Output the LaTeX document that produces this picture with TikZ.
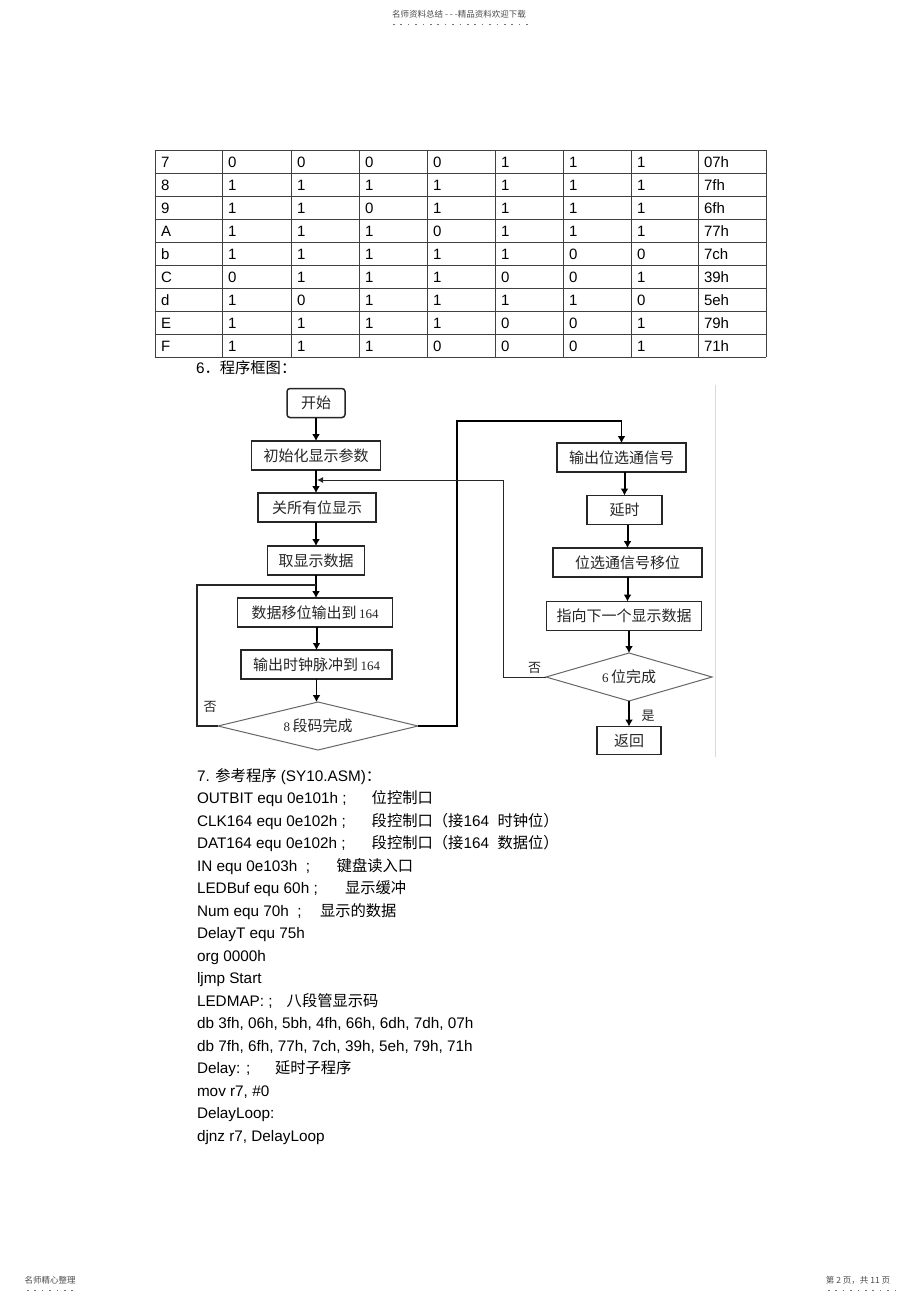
\documentclass[tikz,border=0pt]{standalone}
\usepackage{fontspec}
\setmainfont{Liberation Sans}
\newfontfamily\cjk{Noto Sans CJK SC}
\newfontfamily\numfont{Liberation Serif}
\usetikzlibrary{arrows.meta,shapes.geometric}
\newcommand\zh[1]{{\cjk #1}}
\newcommand\fnum[1]{{\numfont\fontsize{13}{15}\selectfont #1}}
\begin{document}
\begin{tikzpicture}[x=1pt,y=-1pt,
  every node/.style={inner sep=0pt, outer sep=0pt},
  txt/.style={anchor=base west, font=\fontsize{15.3}{18}\selectfont, text=black},
  cell/.style={anchor=base west, font=\fontsize{15}{18}\selectfont, text=black},
  tbl/.style={draw=black!75, line width=0.9pt},
  fbox/.style={draw=black!85, line width=1.5pt, minimum height=29pt, font=\cjk\fontsize{15}{17}\selectfont, text=black!85},
  dia/.style={diamond, draw=black!60, line width=1pt, font=\cjk\fontsize{15}{17}\selectfont, text=black!85},
  flow/.style={draw=black, line width=2pt, -{Latex[length=7pt,width=8pt]}},
  loopl/.style={draw=black!85, line width=1.3pt},
  lab/.style={font=\cjk\fontsize{13}{15}\selectfont, text=black!85},
  hdr/.style={font=\cjk\fontsize{8.5}{10}\selectfont, text=black!70},
  dots/.style={draw=black!55, line width=0.8pt, dash pattern=on 1.5pt off 5.9pt},
]
\useasboundingbox (0,0) rectangle (920,1303);
\fill[white] (0,0) rectangle (920,1303);

% header and footer
\node[hdr] (hd) at (459,14) {名师资料总结 - - -精品资料欢迎下载};
\coordinate (hdl) at (393,24); \coordinate (hdr) at (530,24);
\draw[dots] (hdl) -- (hdr);
\node[hdr] (fl) at (50,1280) {名师精心整理};
\coordinate (fll) at (27,1290); \coordinate (flr) at (78,1290);
\draw[dots] (fll) -- (flr);
\node[hdr] (fr) at (858,1280) {第 2 页，共 11 页};
\coordinate (frl) at (828,1290); \coordinate (frr) at (895,1290);
\draw[dots] (frl) -- (frr);

% table
\foreach \x in {155,222,291,359,427,495,563,631,698,766}
  \draw[tbl] (\x,150) -- (\x,357);
\foreach \i in {0,...,9}
  \draw[tbl] (155,150+23*\i) -- (766,150+23*\i);
\foreach \row [count=\i from 0] in {{7,0,0,0,0,1,1,1,07h},{8,1,1,1,1,1,1,1,7fh},{9,1,1,0,1,1,1,1,6fh},{A,1,1,1,0,1,1,1,77h},{b,1,1,1,1,1,0,0,7ch},{C,0,1,1,1,0,0,1,39h},{d,1,0,1,1,1,1,0,5eh},{E,1,1,1,1,0,0,1,79h},{F,1,1,1,0,0,0,1,71h}}{
  \foreach \c [count=\j from 0] in \row {
    \pgfmathsetmacro\cx{{155,222,291,359,427,495,563,631,698}[\j]+6}
    \node[cell] (t\i-\j) at (\cx,167+23*\i) {\c};
  }
}

% section 6 title
\node[txt] (s6) at (196,373.5) {6\zh{．程序框图：}};

% flowchart frame edge
\coordinate (fe1) at (715,385); \coordinate (fe2) at (715,757);
\draw[black!15, line width=1pt] (fe1) -- (fe2);

% left column
\node[fbox, rounded corners=3pt, minimum width=58pt] (start) at (316,403) {开始};
\node[fbox, minimum width=129pt] (init) at (316,455.5) {初始化显示参数};
\node[fbox, minimum width=118pt] (close) at (317,507.5) {关所有位显示};
\node[fbox, minimum width=97pt] (fetch) at (316,560.5) {取显示数据};
\node[fbox, minimum width=155pt] (shift) at (315,612.5) {数据移位输出到\,\fnum{164}};
\node[fbox, minimum width=151pt] (clk) at (316.5,664.5) {输出时钟脉冲到\,\fnum{164}};
\node[dia, shape aspect=4.2, minimum width=200pt, minimum height=48pt] (d8) at (318,726) {\fnum{8}\,段码完成};

% right column
\node[fbox, minimum width=129pt] (sel) at (621.5,457.5) {输出位选通信号};
\node[fbox, minimum width=75pt] (delay) at (624.5,510) {延时};
\node[fbox, minimum width=149pt] (selshift) at (627.5,562.5) {位选通信号移位};
\node[fbox, minimum width=155pt, line width=1.8pt] (next) at (624,616) {指向下一个显示数据};
\node[dia, shape aspect=3.5, minimum width=166pt, minimum height=48pt] (d6) at (629,677) {\fnum{6}\,位完成};
\node[fbox, minimum width=64pt, minimum height=28pt] (ret) at (629,740.5) {返回};

% left connectors
\draw[flow] (start.south) -- (start.south |- init.north);
\draw[flow] (init.south) -- (init.south |- close.north);
\draw[flow] (close.south -| fetch.north) -- (fetch.north);
\draw[flow] (fetch.south) -- (fetch.south |- shift.north);
\draw[flow] (shift.south -| clk.north) -- (clk.north);
\draw[flow, line width=1.5pt] (clk.south) -- (clk.south |- d8.north);

% loop of d8
\coordinate (j8) at (316,585);
\draw[loopl] (d8.west) -- ++(-21,0) |- (j8);
\node[lab] (no8) at (210,707) {否};

% link d8 -> sel
\draw[flow, line width=1.6pt] (d8.east) -- ++(39,0) |- ([yshift=22pt]sel.north) -- (sel.north);

% right connectors
\draw[flow] (sel.south -| delay.north) -- (delay.north);
\draw[flow] (delay.south -| selshift.north) -- (selshift.north);
\draw[flow] (selshift.south) -- (selshift.south |- next.north);
\draw[flow] (d6.north |- next.south) -- (d6.north);
\draw[flow, line width=1.5pt] (d6.south) -- (ret.north);

% loop of d6
\coordinate (j6) at (317,480);
\draw[loopl, line width=1pt, -{Latex[length=6pt,width=6pt]}] (d6.west) -- ++(-43,0) |- (j6);
\node[lab] (no6) at (534.5,667.5) {否};
\node[lab] (yes6) at (648,716) {是};

% program text
\node[txt] (l0) at (197,781) {7. \zh{参考程序} (SY10.ASM)\zh{：}};
\node[txt] (l1) at (197,803.5) {\makebox[174.7pt][l]{OUTBIT equ 0e101h ;}\zh{位控制口}};
\node[txt] (l2) at (197,826) {\makebox[174.7pt][l]{CLK164 equ 0e102h ;}\zh{段控制口（接}164\ \ \zh{时钟位）}};
\node[txt] (l3) at (197,848.5) {\makebox[174.7pt][l]{DAT164 equ 0e102h ;}\zh{段控制口（接}164\ \ \zh{数据位）}};
\node[txt] (l4) at (197,871) {\makebox[139.7pt][l]{IN equ 0e103h\ \ ;}\zh{键盘读入口}};
\node[txt] (l5) at (197,893.5) {\makebox[148pt][l]{LEDBuf equ 60h ;}\zh{显示缓冲}};
\node[txt] (l6) at (197,916) {\makebox[123pt][l]{Num equ 70h\ \ ;}\zh{显示的数据}};
\node[txt] (l7) at (197,938.5) {DelayT equ 75h};
\node[txt] (l8) at (197,961) {org 0000h};
\node[txt] (l9) at (197,983.5) {ljmp Start};
\node[txt] (l10) at (197,1006) {\makebox[89.7pt][l]{LEDMAP: ;}\zh{八段管显示码}};
\node[txt] (l11) at (197,1028.5) {db 3fh, 06h, 5bh, 4fh, 66h, 6dh, 7dh, 07h};
\node[txt] (l12) at (197,1051) {db 7fh, 6fh, 77h, 7ch, 39h, 5eh, 79h, 71h};
\node[txt] (l13) at (197,1073.5) {\makebox[78pt][l]{Delay: ;}\zh{延时子程序}};
\node[txt] (l14) at (197,1096) {mov r7, \#0};
\node[txt] (l15) at (197,1118.5) {DelayLoop:};
\node[txt] (l16) at (197,1141) {djnz r7, DelayLoop};
\end{tikzpicture}
\end{document}
